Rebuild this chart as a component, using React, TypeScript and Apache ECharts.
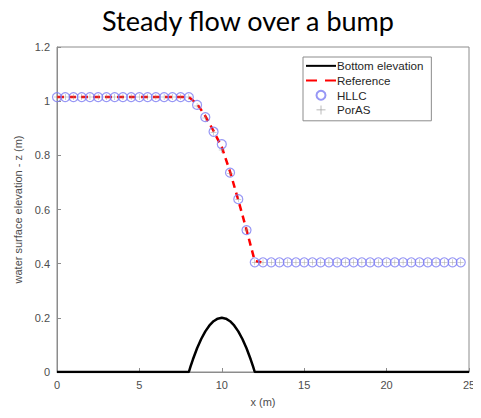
import React, { useEffect, useRef } from "react";
import * as echarts from "echarts";

const titleText = "Steady flow over a bump";
const seriesNames = ["Bottom elevation", "Reference", "HLLC", "PorAS"];

const bottomX = [0, 8, 8.1, 8.25, 8.5, 8.75, 9, 9.25, 9.5, 9.75, 10, 10.25, 10.5, 10.75, 11, 11.25, 11.5, 11.75, 11.9, 12, 25];
const bottomZ = [0, 0, 0.0195, 0.0469, 0.0875, 0.1219, 0.15, 0.1719, 0.1875, 0.1969, 0.2, 0.1969, 0.1875, 0.1719, 0.15, 0.1219, 0.0875, 0.0469, 0.0195, 0, 0];

const referenceX = [0, 8, 8.5, 9, 9.5, 10, 10.5, 11, 11.5, 12, 12.4];
const referenceZ = [1.015, 1.015, 0.99, 0.945, 0.89, 0.83, 0.74, 0.635, 0.525, 0.41, 0.405];

const hllcX = [
  0, 0.5, 1, 1.5, 2, 2.5, 3, 3.5, 4, 4.5, 5, 5.5, 6, 6.5, 7, 7.5, 8,
  8.5, 9, 9.5, 10, 10.5, 11, 11.5,
  12, 12.5, 13, 13.5, 14, 14.5, 15, 15.5, 16, 16.5, 17, 17.5, 18, 18.5, 19, 19.5,
  20, 20.5, 21, 21.5, 22, 22.5, 23, 23.5, 24, 24.5,
];
const hllcZ = [
  1.015, 1.015, 1.015, 1.015, 1.015, 1.015, 1.015, 1.015, 1.015, 1.015, 1.015, 1.015, 1.015, 1.015, 1.015, 1.015, 1.015,
  0.986, 0.941, 0.887, 0.841, 0.736, 0.638, 0.524,
  0.405, 0.405, 0.405, 0.405, 0.405, 0.405, 0.405, 0.405, 0.405, 0.405, 0.405, 0.405, 0.405, 0.405, 0.405, 0.405,
  0.405, 0.405, 0.405, 0.405, 0.405, 0.405, 0.405, 0.405, 0.405, 0.405,
];
const porasZ = [
  1.015, 1.015, 1.015, 1.015, 1.015, 1.015, 1.015, 1.015, 1.015, 1.015, 1.015, 1.015, 1.015, 1.015, 1.015, 1.015, 1.015,
  0.982, 0.938, 0.884, 0.82, 0.733, 0.638, 0.524,
  0.405, 0.405, 0.405, 0.405, 0.405, 0.405, 0.405, 0.405, 0.405, 0.405, 0.405, 0.405, 0.405, 0.405, 0.405, 0.405,
  0.405, 0.405, 0.405, 0.405, 0.405, 0.405, 0.405, 0.405, 0.405, 0.405,
];

const pair = (xs: number[], ys: number[]) => xs.map((x, i) => [x, ys[i]]);

const PLUS = "path://M4.6,0H5.4V4.6H10V5.4H5.4V10H4.6V5.4H0V4.6H4.6Z";
const AXIS_FONT = "'Liberation Sans', Arial, sans-serif";

export default function App() {
  const ref = useRef<HTMLDivElement>(null);
  useEffect(() => {
    if (!ref.current) return;
    const chart = echarts.init(ref.current, null, { renderer: "svg" });
    chart.setOption({
      animation: false,
      backgroundColor: "#ffffff",
      title: {
        text: titleText,
        left: 97,
        top: 2,
        textStyle: {
          fontFamily: "Lato, 'Open Sans', sans-serif",
          fontSize: 27,
          fontWeight: "normal",
          color: "#000000",
        },
      },
      legend: {
        orient: "vertical",
        left: 303,
        top: 57,
        padding: [2, 8, 4, 2],
        itemWidth: 30,
        itemHeight: 9,
        itemGap: 1,
        borderColor: "#8c8c8c",
        borderWidth: 1,
        backgroundColor: "#ffffff",
        data: [
          { name: seriesNames[0], itemStyle: { opacity: 0 } },
          { name: seriesNames[1], itemStyle: { opacity: 0 }, lineStyle: { type: [11, 8] } },
          { name: seriesNames[2] },
          { name: seriesNames[3] },
        ],
        textStyle: { fontFamily: AXIS_FONT, fontSize: 11.6, color: "#262626", padding: [0, 0, 0, -4], lineHeight: 13.7 },
      },
      grid: {
        left: 57,
        right: 12,
        top: 47,
        bottom: 46,
        show: true,
        borderColor: "#8c8c8c",
        borderWidth: 1,
      },
      xAxis: {
        type: "value",
        min: 0,
        max: 25,
        interval: 5,
        name: "x (m)",
        nameLocation: "middle",
        nameGap: 24,
        nameTextStyle: { fontFamily: AXIS_FONT, fontSize: 11, color: "#4d4d4d" },
        axisLine: { show: true, lineStyle: { color: "#8c8c8c" } },
        axisTick: { show: true, inside: true, length: 4, lineStyle: { color: "#8c8c8c" } },
        axisLabel: { fontFamily: AXIS_FONT, fontSize: 11, color: "#4d4d4d", margin: 7 },
        splitLine: { show: false },
      },
      yAxis: {
        type: "value",
        min: 0,
        max: 1.2,
        interval: 0.2,
        name: "water surface elevation - z (m)",
        nameLocation: "middle",
        nameGap: 30,
        nameTextStyle: { fontFamily: AXIS_FONT, fontSize: 11, color: "#4d4d4d" },
        axisLine: { show: true, lineStyle: { color: "#8c8c8c" } },
        axisTick: { show: true, inside: true, length: 4, lineStyle: { color: "#8c8c8c" } },
        axisLabel: { fontFamily: AXIS_FONT, fontSize: 11, color: "#4d4d4d", margin: 7 },
        splitLine: { show: false },
      },
      series: [
        {
          name: seriesNames[0],
          type: "line",
          data: pair(bottomX, bottomZ),
          symbol: "none",
          lineStyle: { color: "#000000", width: 2.5 },
          itemStyle: { color: "#000000" },
          z: 3,
        },
        {
          name: seriesNames[1],
          type: "line",
          data: pair(referenceX, referenceZ),
          symbol: "none",
          lineStyle: { color: "#ff0000", width: 2.5, type: [7, 5] },
          itemStyle: { color: "#ff0000" },
          z: 4,
        },
        {
          name: seriesNames[2],
          type: "scatter",
          data: pair(hllcX, hllcZ),
          symbol: "circle",
          symbolSize: 9,
          itemStyle: { color: "rgba(0,0,0,0)", borderColor: "#7d7df2", borderWidth: 1.2 },
          z: 5,
        },
        {
          name: seriesNames[3],
          type: "scatter",
          data: pair(hllcX, porasZ),
          symbol: PLUS,
          symbolSize: 6,
          itemStyle: { color: "#8a8a8a" },
          z: 6,
        },
      ],
    });
    return () => chart.dispose();
  }, []);
  return <div ref={ref} style={{ width: 481, height: 418, margin: -8 }} />;
}
